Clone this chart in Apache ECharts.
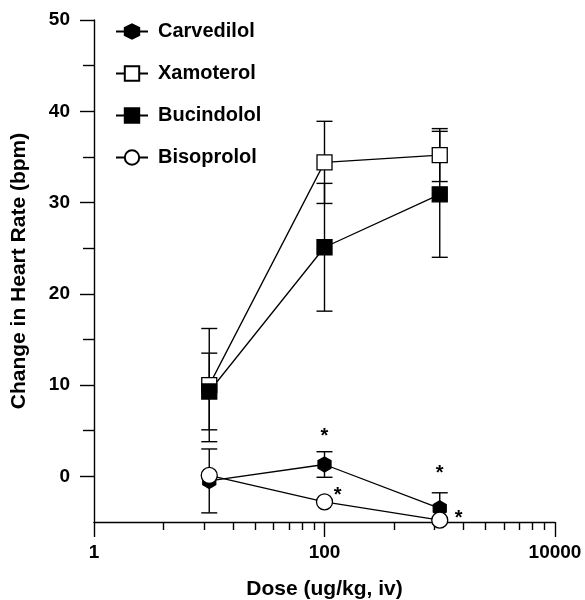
<!DOCTYPE html>
<html>
<head>
<meta charset="utf-8">
<script src="https://cdn.jsdelivr.net/npm/echarts@6/dist/echarts.min.js"></script>
<style>
  html, body { margin: 0; padding: 0; background: #fff; }
  #chart { width: 585px; height: 600px; }
</style>
</head>
<body>
<div id="chart"></div>
<script>
(function () {
  'use strict';

  // ── Data ──

  var doses = [10, 100, 1000];

  var carvedilol = [-0.5, 1.3, -3.5];
  var carvedilolErr = [3.5, 1.4, 1.7];

  var xamoterol = [10.0, 34.4, 35.2];
  var xamoterolErr = [6.2, 4.5, 2.9];

  var bucindolol = [9.3, 25.1, 30.9];
  var bucindololErr = [4.2, 7.0, 6.9];

  var bisoprolol = [0.1, -2.8, -4.8];
  var bisoprololErr = [0, 0, 0];

  // significance markers (*)
  var starX = [100, 130, 1000, 1460];
  var starY = [4.8, -1.7, 0.7, -4.2];

  // axis ticks
  var xMajorTicks = [1, 100, 10000];
  var xMinorTicks = [4, 9, 16, 25, 36, 49, 64, 81, 400, 900, 1600, 2500, 3600, 4900, 6400, 8100];
  var yMajorTicks = [0, 10, 20, 30, 40, 50];
  var yMinorTicks = [5, 15, 25, 35, 45];

  // ── Style ──

  var FONT = '"Liberation Sans", Arial, sans-serif';
  var INK = '#000';
  var HEXAGON = 'path://M0,-1L0.866,-0.5L0.866,0.5L0,1L-0.866,0.5L-0.866,-0.5Z';

  function pairs(xs, ys) {
    return xs.map(function (x, i) { return [x, ys[i]]; });
  }

  function lineSeries(name, values, symbol, fill, size, z) {
    return {
      name: name,
      type: 'line',
      data: pairs(doses, values),
      symbol: symbol,
      symbolSize: size,
      symbolKeepAspect: true,
      lineStyle: { color: INK, width: 1.3 },
      itemStyle: { color: fill, borderColor: INK, borderWidth: 1.3, opacity: 1 },
      emphasis: { disabled: true },
      z: z,
      animation: false
    };
  }

  function errorSeries(values, errs) {
    var data = doses.map(function (d, i) { return [d, values[i] - errs[i], values[i] + errs[i]]; })
      .filter(function (r) { return r[2] > r[1]; });
    return {
      type: 'custom',
      data: data,
      z: 1,
      silent: true,
      clip: true,
      animation: false,
      renderItem: function (params, api) {
        var lo = api.coord([api.value(0), api.value(1)]);
        var hi = api.coord([api.value(0), api.value(2)]);
        var cap = 8;
        var st = { stroke: INK, lineWidth: 1.4 };
        return {
          type: 'group',
          children: [
            { type: 'line', shape: { x1: lo[0], y1: lo[1], x2: hi[0], y2: hi[1] }, style: st },
            { type: 'line', shape: { x1: lo[0] - cap, y1: lo[1], x2: lo[0] + cap, y2: lo[1] }, style: st },
            { type: 'line', shape: { x1: hi[0] - cap, y1: hi[1], x2: hi[0] + cap, y2: hi[1] }, style: st }
          ]
        };
      }
    };
  }

  function logAxis(ticks, len, labels) {
    return {
      type: 'log',
      logBase: 10,
      min: 1,
      max: 10000,
      position: 'bottom',
      axisLine: { show: labels, onZero: false, lineStyle: { color: INK, width: 1.4 } },
      axisTick: { show: true, inside: false, length: len, customValues: ticks, lineStyle: { color: INK, width: 1.4 } },
      minorTick: { show: false },
      axisLabel: labels ? {
        show: true, customValues: ticks, margin: 21,
        color: INK, fontFamily: FONT, fontWeight: 'bold', fontSize: 19,
        formatter: function (v) { return String(Math.round(v)); }
      } : { show: false },
      splitLine: { show: false },
      name: labels ? 'Dose (ug/kg, iv)' : '',
      nameLocation: 'middle',
      nameGap: 57,
      nameTextStyle: { color: INK, fontFamily: FONT, fontWeight: 'bold', fontSize: 21 }
    };
  }

  function linAxis(ticks, len, labels) {
    return {
      type: 'value',
      min: -5,
      max: 50,
      interval: 5,
      position: 'left',
      axisLine: { show: labels, onZero: false, lineStyle: { color: INK, width: 1.4 } },
      axisTick: { show: true, length: len, customValues: ticks, lineStyle: { color: INK, width: 1.4 } },
      axisLabel: labels ? {
        show: true, customValues: ticks, margin: 24,
        color: INK, fontFamily: FONT, fontWeight: 'bold', fontSize: 19
      } : { show: false },
      splitLine: { show: false },
      name: labels ? 'Change in Heart Rate (bpm)' : '',
      nameLocation: 'middle',
      nameGap: 64,
      nameTextStyle: { color: INK, fontFamily: FONT, fontWeight: 'bold', fontSize: 21 }
    };
  }

  var chart = echarts.init(document.getElementById('chart'), null, { renderer: 'canvas' });

  chart.setOption({
    animation: false,
    backgroundColor: '#fff',
    grid: { left: 94, right: 30, top: 20, bottom: 78, containLabel: false, outerBoundsMode: 'none' },
    xAxis: [logAxis(xMajorTicks, 15, true), logAxis(xMinorTicks, 8, false)],
    yAxis: [linAxis(yMajorTicks, 14, true), linAxis(yMinorTicks, 11, false)],
    legend: {
      orient: 'vertical',
      left: 110,
      top: 16,
      itemWidth: 32,
      itemHeight: 18,
      itemGap: 21,
      textStyle: { color: INK, fontFamily: FONT, fontWeight: 'bold', fontSize: 20, lineHeight: 21, padding: [0, 0, 0, 5] },
      data: ['Carvedilol', 'Xamoterol', 'Bucindolol', 'Bisoprolol']
    },
    series: [
      errorSeries(carvedilol, carvedilolErr),
      errorSeries(xamoterol, xamoterolErr),
      errorSeries(bucindolol, bucindololErr),
      errorSeries(bisoprolol, bisoprololErr),
      lineSeries('Carvedilol', carvedilol, HEXAGON, INK, 15, 3),
      lineSeries('Xamoterol', xamoterol, 'rect', '#fff', 15, 4),
      lineSeries('Bucindolol', bucindolol, 'rect', INK, 15, 4),
      lineSeries('Bisoprolol', bisoprolol, 'circle', '#fff', 16, 5),
      {
        type: 'custom',
        data: pairs(starX, starY),
        z: 6,
        silent: true,
        clip: false,
        animation: false,
        renderItem: function (params, api) {
          var p = api.coord([api.value(0), api.value(1)]);
          return {
            type: 'text',
            x: p[0],
            y: p[1] + 4,
            style: {
              text: '*', fill: INK, font: 'bold 20px ' + FONT,
              align: 'center', verticalAlign: 'middle'
            }
          };
        }
      }
    ]
  });
})();
</script>
</body>
</html>
